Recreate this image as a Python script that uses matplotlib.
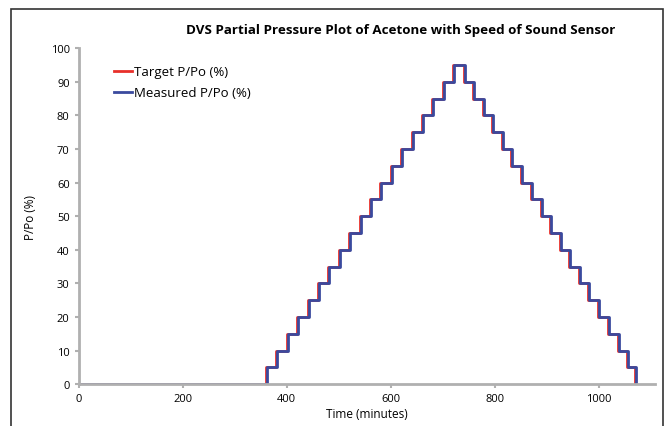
import matplotlib.pyplot as plt
from matplotlib.patches import Rectangle

# target P/Po steps (time in minutes, value in %)
target_t = [0, 360, 380, 400, 420, 440, 460, 480, 500, 520, 540, 560, 580, 600, 620, 640,
            660, 680, 700, 720, 740, 758, 777, 795, 814, 832, 851, 869, 888, 906, 925,
            943, 962, 980, 999, 1017, 1036, 1054, 1070, 1070]
target_p = [0, 5, 10, 15, 20, 25, 30, 35, 40, 45, 50, 55, 60, 65, 70, 75,
            80, 85, 90, 95, 90, 85, 80, 75, 70, 65, 60, 55, 50, 45, 40,
            35, 30, 25, 20, 15, 10, 5, 0, 0]

# measured P/Po lags the target by a couple of minutes
meas_t = [0, 362, 382, 402, 422, 442, 462, 482, 502, 522, 542, 562, 582, 602, 622, 642,
          662, 682, 702, 722, 742, 760, 779, 797, 816, 834, 853, 871, 890, 908, 927,
          945, 964, 982, 1001, 1019, 1038, 1056, 1072, 1072]
meas_p = target_p

xticks = [0, 200, 400, 600, 800, 1000]
yticks = [0, 10, 20, 30, 40, 50, 60, 70, 80, 90, 100]

plt.rcParams['font.family'] = ['Open Sans', 'DejaVu Sans']
grey = '#b0b0b0'

fig = plt.figure(figsize=(6.67, 4.27), dpi=100)
ax = fig.add_axes([0.118, 0.098, 0.864, 0.787])

ax.step(target_t, target_p, where='post', color='#e8302a', lw=2, label='Target P/Po (%)')
ax.step(meas_t, meas_p, where='post', color='#3a4a9e', lw=2, label='Measured P/Po (%)')

ax.set_xlim(0, 1108)
ax.set_ylim(0, 100)
ax.set_xticks(xticks)
ax.set_yticks(yticks)
ax.tick_params(labelsize=8, colors=grey, labelcolor='black', length=3, width=1.5)
for s in ['top', 'right']:
    ax.spines[s].set_visible(False)
for s in ['left', 'bottom']:
    ax.spines[s].set_color(grey)
    ax.spines[s].set_linewidth(2)

ax.set_xlabel('Time (minutes)', fontsize=8.5, labelpad=2)
ax.set_ylabel('P/Po (%)', fontsize=8.5, labelpad=10)

leg = ax.legend(loc='upper left', bbox_to_anchor=(0.061, 0.949), frameon=False, fontsize=9.5,
                borderpad=0, borderaxespad=0, handlelength=1.4, handletextpad=0.15,
                labelspacing=0.6)

fig.text(0.601, 0.928, 'DVS Partial Pressure Plot of Acetone with Speed of Sound Sensor',
         ha='center', va='center', fontsize=9.6, fontweight='bold')

# outer frame (bottom edge cut off in the original)
fig.patches.append(Rectangle((11 / 667, -0.05), 652 / 667, 1.05 - 10 / 427, transform=fig.transFigure,
                             fill=False, edgecolor='#333333', lw=1.2))

fig.savefig('out.png', dpi=100)
